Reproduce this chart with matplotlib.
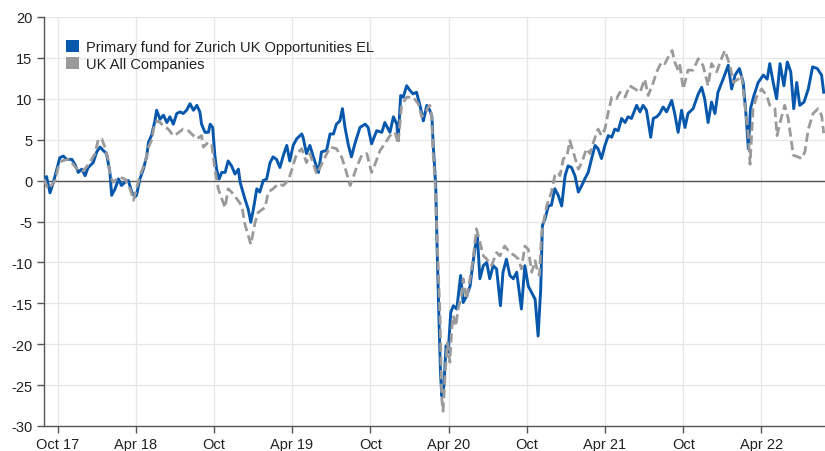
import matplotlib
matplotlib.use("Agg")
import matplotlib.pyplot as plt
from matplotlib.patches import Patch
import pandas as pd

plt.rcParams['font.family'] = ['Liberation Sans', 'DejaVu Sans']
plt.rcParams['axes.unicode_minus'] = False

# ---- data ----
start = pd.Timestamp("2017-10-01")
series_names = ["Primary fund for Zurich UK Opportunities EL", "UK All Companies"]

fund_days = [-32, -26, -18, -10, -2, 5, 13, 21, 33, 40, 48, 56, 64, 71, 83, 91, 99, 106, 114, 122,
             126, 134, 142, 149, 157, 165, 173, 180, 184, 192, 200, 208, 212, 219, 227, 231, 239, 247,
             255, 262, 270, 278, 286, 293, 301, 309, 317, 325, 332, 336, 344, 352, 356, 362, 367, 371,
             377, 383, 391, 398, 406, 414, 422, 426, 437, 445, 451, 457, 465, 472, 480, 488, 496, 503,
             511, 519, 527, 535, 542, 550, 558, 570, 573, 581, 589, 597, 609, 616, 628, 636, 644, 651,
             659, 665, 671, 679, 686, 694, 706, 718, 725, 733, 745, 757, 764, 776, 784, 792, 795, 801,
             807, 815, 823, 830, 838, 846, 854, 862, 869, 874, 877, 881, 883, 886, 890, 894, 897, 902,
             907, 912, 918, 924, 932, 941, 947, 955, 963, 969, 974, 980, 986, 994, 1002, 1009, 1017,
             1025, 1034, 1040, 1048, 1056, 1064, 1072, 1083, 1091, 1099, 1107, 1115, 1122, 1128, 1132,
             1138, 1146, 1153, 1161, 1169, 1177, 1185, 1192, 1200, 1208, 1216, 1224, 1231, 1239, 1247,
             1255, 1262, 1270, 1278, 1286, 1294, 1301, 1309, 1317, 1325, 1332, 1340, 1352, 1360, 1367,
             1375, 1385, 1391, 1399, 1406, 1414, 1422, 1434, 1441, 1449, 1457, 1465, 1472, 1484, 1496,
             1504, 1511, 1519, 1527, 1535, 1542, 1554, 1566, 1574, 1582, 1592, 1601, 1607, 1613, 1618,
             1626, 1636, 1648, 1657, 1663, 1671, 1679, 1687, 1696, 1704, 1712, 1719, 1726, 1733, 1743,
             1753, 1763, 1774, 1784, 1789]
fund_values = [0.0, 0.5, -1.5, -0.2, 1.4, 2.8, 3.0, 2.6, 2.6, 2.0, 1.0, 1.4, 0.6, 1.6, 2.2, 3.5, 4.1, 3.7, 3.3, 1.0,
               -1.8, -1.0, 0.2, -0.6, -0.2, 0.0, -1.4, -2.0, -1.8, 0.2, 1.4, 3.0, 4.7, 5.5, 7.3, 8.6, 7.5, 8.0,
               7.1, 7.8, 6.9, 8.2, 8.4, 8.2, 8.6, 9.4, 8.6, 9.2, 8.4, 6.9, 5.9, 5.9, 6.9, 6.5, 3.1, 1.4,
               0.2, 1.0, 1.0, 2.4, 1.8, 0.8, 1.4, -0.2, -2.2, -3.5, -5.1, -3.5, -1.0, -1.4, 0.0, 0.2, 2.2, 2.9,
               2.6, 1.6, 3.1, 4.3, 2.4, 4.3, 5.1, 5.7, 5.3, 3.3, 4.3, 2.9, 1.0, 3.5, 3.7, 5.7, 5.7, 6.9,
               7.3, 8.8, 6.5, 4.3, 2.9, 4.5, 6.5, 6.9, 6.5, 4.5, 6.1, 5.9, 7.1, 5.9, 7.8, 6.9, 4.9, 10.4,
               10.2, 11.6, 11.0, 10.6, 10.8, 9.2, 7.3, 9.2, 8.6, 7.8, 4.3, 1.0, -1.0, -8.0, -16.1, -23.5, -26.3, -25.1,
               -20.2, -21.0, -16.1, -15.3, -15.7, -11.6, -14.9, -14.1, -12.9, -10.4, -8.4, -6.7, -12.0, -10.4, -10.0, -12.0, -10.4,
               -10.8, -15.3, -11.2, -9.6, -11.6, -12.0, -11.2, -15.7, -10.4, -12.9, -13.7, -14.5, -19.0, -13.3, -5.5,
               -4.7, -3.1, -3.0, -1.0, -1.8, -3.1, 0.6, 1.8, 1.6, 0.6, -1.4, -0.6, 0.2, 1.0, 2.7,
               4.3, 3.9, 2.7, 4.3, 5.5, 5.3, 6.3, 6.1, 7.6, 7.1, 7.8, 7.6, 9.2, 8.4, 9.2,
               8.6, 5.3, 7.6, 7.8, 8.2, 9.0, 8.4, 9.8, 8.2, 5.9, 8.6, 6.5, 8.2, 8.8, 10.6,
               11.4, 10.0, 7.1, 9.6, 8.2, 10.8, 12.4, 14.1, 11.2, 12.9, 13.7, 12.0, 8.4, 3.9, 8.8,
               10.4, 12.0, 12.9, 12.4, 14.3, 12.0, 10.0, 14.3, 11.6, 14.5, 13.3, 8.8, 12.0, 9.2, 9.6,
               11.2, 13.9, 13.7, 12.9, 10.8]

sector_days = [-32, -23, -13, -6, 1, 9, 25, 36, 48, 60, 75, 87, 95, 103, 110, 118, 122, 130, 138, 145,
               157, 169, 177, 184, 192, 204, 212, 219, 227, 235, 247, 258, 270, 278, 293, 305, 317, 325,
               336, 340, 352, 360, 367, 375, 383, 391, 398, 406, 418, 430, 437, 445, 451, 461, 468, 484,
               492, 503, 515, 527, 538, 546, 558, 570, 581, 589, 605, 620, 636, 651, 663, 671, 683, 690,
               698, 710, 722, 733, 741, 753, 764, 776, 788, 795, 803, 815, 830, 842, 850, 862, 865, 869,
               873, 877, 881, 883, 887, 893, 897, 900, 905, 910, 916, 920, 924, 930, 935, 943, 947, 955,
               963, 970, 978, 984, 994, 1002, 1013, 1025, 1033, 1044, 1056, 1068, 1076, 1083, 1091, 1099,
               1107, 1115, 1120, 1125, 1130, 1136, 1142, 1153, 1161, 1169, 1173, 1181, 1189, 1196, 1204,
               1216, 1224, 1235, 1243, 1255, 1262, 1270, 1278, 1286, 1294, 1305, 1313, 1325, 1336, 1348,
               1360, 1371, 1379, 1391, 1399, 1410, 1418, 1430, 1435, 1441, 1449, 1453, 1461, 1472, 1484,
               1496, 1507, 1519, 1527, 1539, 1550, 1558, 1570, 1578, 1589, 1597, 1605, 1613, 1617, 1624,
               1632, 1644, 1656, 1663, 1675, 1680, 1687, 1698, 1706, 1718, 1729, 1737, 1745, 1753, 1764,
               1776, 1784, 1789]
sector_values = [0.2, -1.0, -0.5, 0.0, 1.6, 2.4, 2.6, 2.0, 1.2, 1.2, 2.2, 3.3, 5.1, 5.1, 4.1, 2.6, 0.6, -0.2, 0.2, 0.4,
                 0.2, -1.0, -2.4, -1.0, 0.6, 2.2, 4.1, 4.9, 7.1, 7.3, 6.7, 6.3, 5.5, 5.7, 6.3, 6.1, 5.5, 5.1,
                 5.5, 4.1, 4.7, 4.3, 1.4, -1.0, -2.2, -3.3, -1.0, -1.4, -2.2, -3.1, -5.3, -6.7, -7.8, -5.1, -3.9, -3.3,
                 -1.4, -1.0, -0.4, -0.6, 0.0, 1.2, 3.3, 3.9, 2.2, 3.3, 0.8, 2.4, 4.1, 3.9, 2.9, 1.6, -0.6, 0.4,
                 1.6, 3.1, 3.3, 1.0, 2.0, 3.7, 4.5, 5.5, 5.9, 4.5, 9.2, 10.2, 10.2, 9.4, 7.8, 8.6, 9.0, 9.2,
                 8.0, 3.1, 0.2, -2.7, -8.8, -16.9, -26.7, -28.2, -23.5, -19.8, -22.2, -18.2, -16.5, -17.8, -15.7, -14.1, -12.0, -14.5,
                 -12.0, -9.6, -5.9, -7.1, -9.2, -9.6, -10.4, -8.8, -9.2, -8.0, -8.8, -9.2, -9.6, -10.8, -8.0, -8.4,
                 -11.2, -9.8, -11.0, -11.6, -6.7, -4.7, -3.1, -1.4, 0.6, 1.0, 0.6, 2.7, 2.9, 4.9, 3.5,
                 1.4, 2.2, 3.9, 3.3, 5.3, 6.3, 5.5, 6.3, 8.4, 10.2, 10.0, 10.8, 10.2, 11.6, 11.2,
                 10.8, 12.4, 10.4, 12.0, 13.3, 14.5, 14.3, 15.5, 15.9, 14.5, 13.5, 14.1, 11.2, 13.5, 13.5,
                 14.9, 14.1, 11.6, 14.3, 13.3, 14.9, 15.9, 14.1, 12.0, 12.4, 12.9, 9.2, 5.5, 2.0, 8.8,
                 10.2, 11.2, 10.4, 9.2, 8.8, 5.5, 7.1, 9.2, 7.6, 3.1, 2.9, 2.7, 3.5, 6.3, 8.2,
                 8.8, 8.0, 5.8]

tick_dates = ["2017-10-01", "2018-04-01", "2018-10-01", "2019-04-01", "2019-10-01",
              "2020-04-01", "2020-10-01", "2021-04-01", "2021-10-01", "2022-04-01"]
tick_labels = ["Oct 17", "Apr 18", "Oct", "Apr 19", "Oct", "Apr 20", "Oct", "Apr 21", "Oct", "Apr 22"]
y_ticks = [-30, -25, -20, -15, -10, -5, 0, 5, 10, 15, 20]

# ---- plot ----
fund_dates = start + pd.to_timedelta(fund_days, unit="D")
sector_dates = start + pd.to_timedelta(sector_days, unit="D")

blue = "#0758ad"
grey = "#9a9a9c"

fig = plt.figure(figsize=(8.25, 4.52), dpi=100)
ax = fig.add_axes([44 / 825, 1 - 427 / 452, 781 / 825, 409 / 452])

ax.plot(fund_dates, fund_values, color=blue, lw=2.1, zorder=3, solid_joinstyle="round")
ax.plot(sector_dates, sector_values, color=grey, lw=2.0, zorder=4, dashes=(3.3, 1.6))

ax.axhline(0, color="#555555", lw=1.0, zorder=2)

ax.set_ylim(-30, 20)
ax.set_yticks(y_ticks)
ax.set_yticklabels([str(v) for v in y_ticks])
ax.set_xlim(start + pd.Timedelta(days=-32), start + pd.Timedelta(days=1792))
ax.set_xticks(pd.to_datetime(tick_dates))
ax.set_xticklabels(tick_labels)

ax.grid(True, color="#e6e6e6", lw=0.9, zorder=0)
ax.set_axisbelow(True)
for s in ["top", "right"]:
    ax.spines[s].set_visible(False)
for s in ["left", "bottom"]:
    ax.spines[s].set_color("#555555")
    ax.spines[s].set_linewidth(1.0)
ax.tick_params(axis="both", colors="#555555", labelcolor="#222222", labelsize=10.5, length=5, width=1.0)
ax.tick_params(axis="x", pad=3)

handles = [Patch(facecolor=blue, edgecolor="none"), Patch(facecolor=grey, edgecolor="none")]
ax.legend(handles, series_names, loc="upper left", bbox_to_anchor=(0.017, 0.965), frameon=False,
          fontsize=10.5, handlelength=0.9, handleheight=0.9, handletextpad=0.5,
          labelspacing=0.22, borderaxespad=0.2, labelcolor="#222222")

fig.savefig("out.png", dpi=100)
